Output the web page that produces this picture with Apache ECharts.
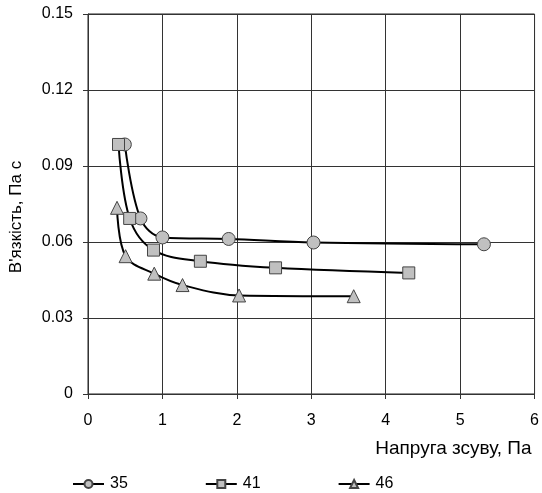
<!DOCTYPE html>
<html><head><meta charset="utf-8">
<script src="https://cdn.jsdelivr.net/npm/echarts@6/dist/echarts.min.js"></script>
<style>html,body{margin:0;padding:0;background:#fff}#c{width:542px;height:493px}</style>
</head><body><div id="c"></div>
<script>
var seriesNames = ['35', '41', '46'];
var s35x = [0.495, 0.705, 1.0, 1.89, 3.03, 5.32];
var s35y = [0.0985, 0.0693, 0.0618, 0.0612, 0.0598, 0.0591];
var s41x = [0.41, 0.56, 0.88, 1.51, 2.52, 4.31];
var s41y = [0.0985, 0.0693, 0.0568, 0.0524, 0.0498, 0.0478];
var s46x = [0.39, 0.505, 0.89, 1.27, 2.03, 3.57];
var s46y = [0.0735, 0.0544, 0.0475, 0.043, 0.0389, 0.0386];
var symbols = ['circle', 'rect', 'triangle'];

function pairs(xs, ys) { return xs.map(function (x, i) { return [x, ys[i]]; }); }
var data = [pairs(s35x, s35y), pairs(s41x, s41y), pairs(s46x, s46y)];

var font = 'Liberation Sans, Arial, sans-serif';
var chart = echarts.init(document.getElementById('c'));
chart.setOption({
  animation: false,
  textStyle: { fontFamily: font },
  grid: { left: 87, right: 7, top: 14, bottom: 99, show: true, borderColor: '#222', borderWidth: 1 },
  xAxis: {
    type: 'value', min: 0, max: 6, interval: 1,
    name: 'Напруга зсуву, Па', nameLocation: 'end', nameGap: -3,
    nameTextStyle: { fontFamily: font, fontSize: 19, color: '#000', align: 'right', verticalAlign: 'top', padding: [45, 0, 0, 0] },
    axisLine: { lineStyle: { color: '#333', width: 1 } },
    axisTick: { show: true, length: 5, lineStyle: { color: '#333' } },
    axisLabel: { fontFamily: font, fontSize: 16, color: '#000', margin: 19 },
    splitLine: { show: true, lineStyle: { color: '#333', width: 1 } }
  },
  yAxis: {
    type: 'value', min: 0, max: 0.15, interval: 0.03,
    name: "В'язкість, Па с", nameLocation: 'middle', nameGap: 63,
    nameTextStyle: { fontFamily: font, fontSize: 17, color: '#000', padding: [0, 26, 0, 0] },
    axisLine: { show: true, lineStyle: { color: '#333', width: 1 } },
    axisTick: { show: true, length: 5, lineStyle: { color: '#333' } },
    axisLabel: { fontFamily: font, fontSize: 16, color: '#000', margin: 15,
      formatter: function (v) { return v === 0 ? '0' : v.toFixed(2); } },
    splitLine: { show: true, lineStyle: { color: '#333', width: 1 } }
  },
  legend: {
    top: 471, left: 67, itemGap: 77, itemWidth: 31, itemHeight: 10,
    textStyle: { fontFamily: font, fontSize: 16, color: '#000', padding: [0, 0, 0, 1] },
    data: seriesNames
  },
  series: seriesNames.map(function (n, i) {
    return {
      name: n, type: 'line', data: data[i], smooth: 0.35,
      symbol: symbols[i], symbolSize: i === 1 ? 12 : 13,
      lineStyle: { color: '#000', width: 2 },
      itemStyle: { color: '#c0c0c0', borderColor: '#444', borderWidth: 1 }
    };
  })
});
</script></body></html>
